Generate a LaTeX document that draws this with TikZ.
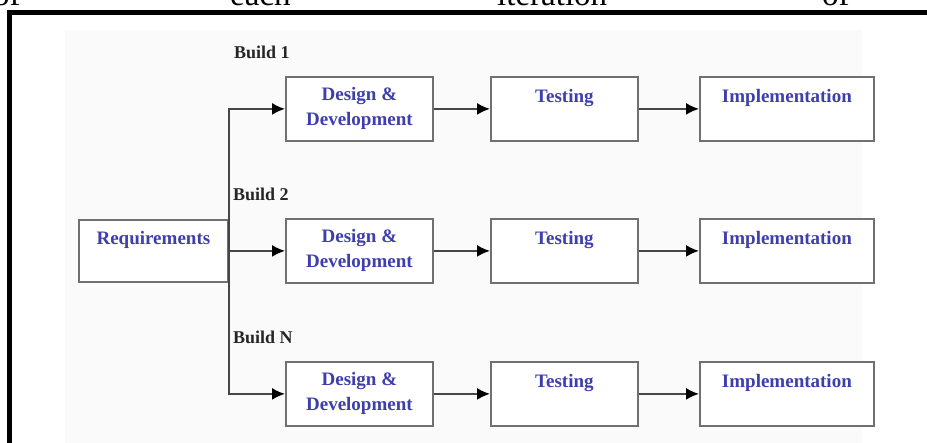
\documentclass[tikz,border=0pt]{standalone}
\usepackage{fontspec}
\setmainfont{Liberation Serif}
\usetikzlibrary{arrows.meta}
\definecolor{boxtext}{RGB}{62,62,172}
\definecolor{boxline}{RGB}{112,112,112}
\definecolor{linkline}{RGB}{70,70,70}
\definecolor{buildtext}{RGB}{38,38,38}
\definecolor{panelbg}{RGB}{250,250,250}
\begin{document}
\begin{tikzpicture}[x=1pt,y=-1pt,
  stagebox/.style={draw=boxline, line width=1.8pt, fill=white, inner sep=0pt,
    minimum height=64pt, align=center, anchor=north west, text=boxtext,
    font=\fontsize{19}{25}\selectfont\bfseries},
  buildlabel/.style={anchor=west, inner sep=0pt, text=buildtext,
    font=\fontsize{18}{20}\selectfont\bfseries},
  headword/.style={anchor=base west, inner sep=0pt, font=\fontsize{33}{40}\selectfont},
  link/.style={draw=linkline, line width=1.8pt,
    -{Latex[length=13pt,width=12pt,black]}}
]
\useasboundingbox (0,0) rectangle (927,443);
\clip (0,0) rectangle (927,443);

% running text of the page above the figure
\node[headword] (w1) at (-7,6) {of};
\node[headword] (w2) at (230,6) {each};
\node[headword] (w3) at (497,6) {iteration};
\node[headword] (w4) at (822,6) {of};

% figure frame and panel
\fill[white] (9,12.5) rectangle (940,460);
\fill[panelbg] (65,30) rectangle (862,460);
\draw[line width=5pt] (9,470) -- (9,12.5) -- (940,12.5);

% requirements
\node[stagebox, minimum width=149pt, minimum height=62pt] (req) at (78,219) {Requirements\\\mbox{}};

% build 1
\node[stagebox, minimum width=147pt] (dd1) at (285,76) {Design \&\\Development};
\node[stagebox, minimum width=147pt] (te1) at (490,76) {Testing\\\mbox{}};
\node[stagebox, minimum width=174pt] (im1) at (699,76) {Implementation\\\mbox{}};

% build 2
\node[stagebox, minimum width=147pt] (dd2) at (285,218) {Design \&\\Development};
\node[stagebox, minimum width=147pt] (te2) at (490,218) {Testing\\\mbox{}};
\node[stagebox, minimum width=174pt] (im2) at (699,218) {Implementation\\\mbox{}};

% build N
\node[stagebox, minimum width=147pt] (dd3) at (285,361) {Design \&\\Development};
\node[stagebox, minimum width=147pt] (te3) at (490,361) {Testing\\\mbox{}};
\node[stagebox, minimum width=174pt] (im3) at (699,361) {Implementation\\\mbox{}};

% build labels
\node[buildlabel] (b1) at (234,52) {Build 1};
\node[buildlabel] (b2) at (233,194) {Build 2};
\node[buildlabel] (bn) at (233,337) {Build N};

% branches from requirements
\draw[link] (req.east) |- (dd1.west);
\draw[link] (req.east) -- (dd2.west);
\draw[link] (req.east) |- (dd3.west);

% stage sequence within each build
\foreach \r in {1,2,3}{
  \draw[link] (dd\r.east) -- (te\r.west);
  \draw[link] (te\r.east) -- (im\r.west);
}
\end{tikzpicture}
\end{document}
